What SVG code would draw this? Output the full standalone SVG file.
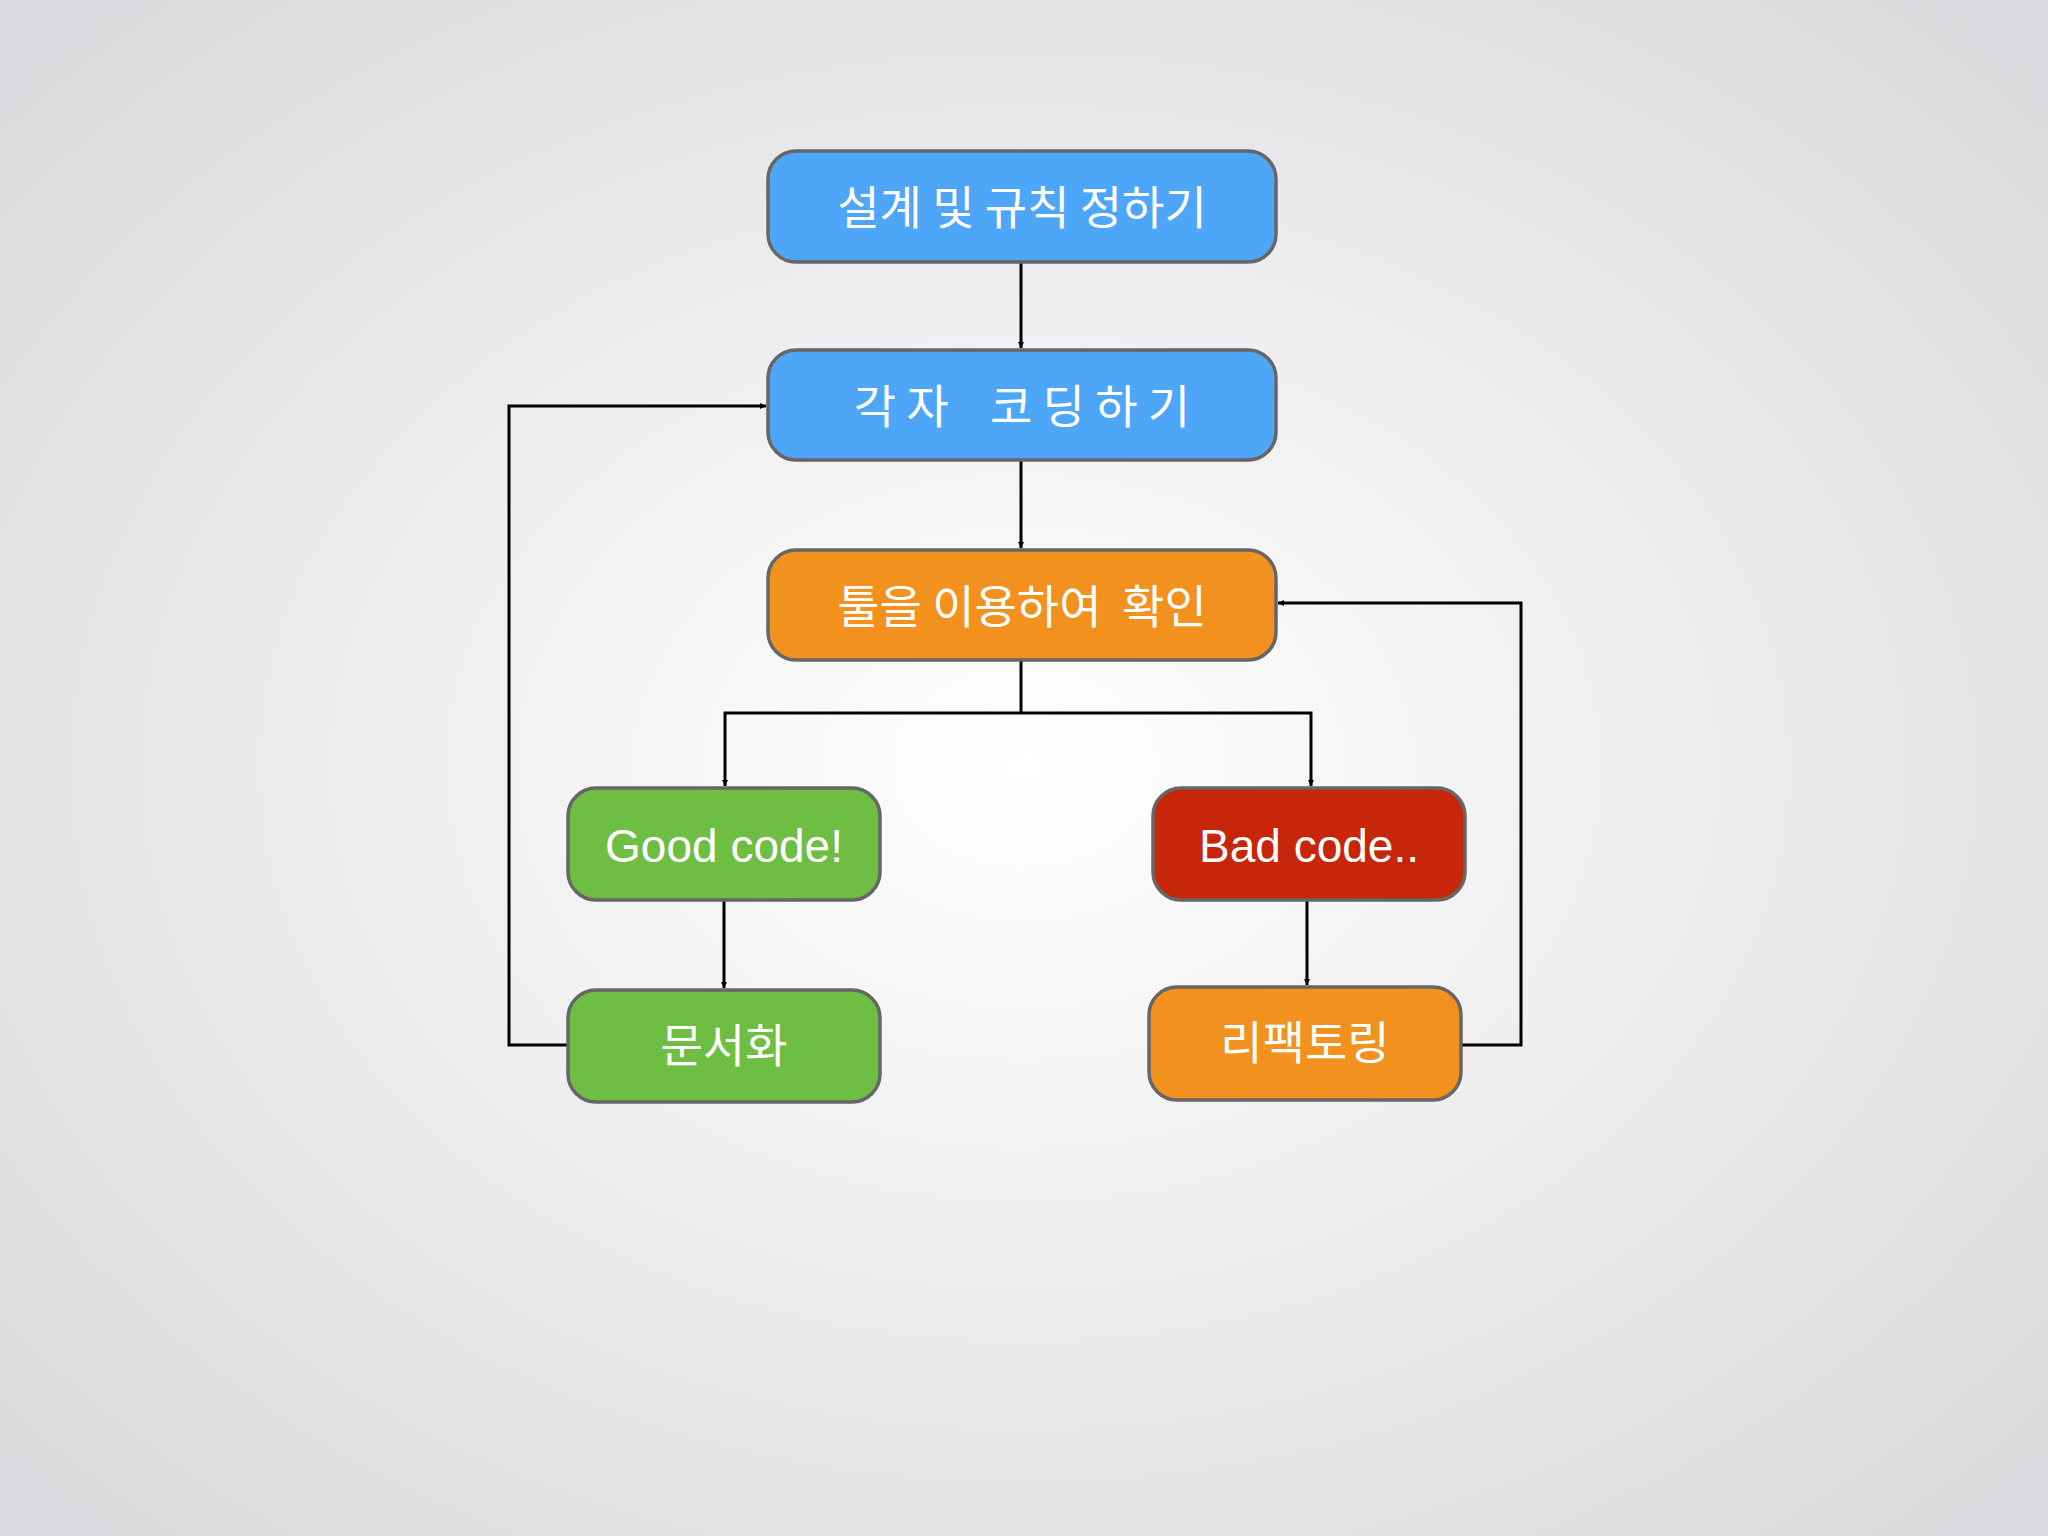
<svg xmlns="http://www.w3.org/2000/svg" width="2048" height="1536" viewBox="0 0 2048 1536">
<defs>
<radialGradient id="bg" cx="50%" cy="50%" r="75%">
<stop offset="0" stop-color="#ffffff"/><stop offset="1" stop-color="#d6d6da"/>
</radialGradient>
<marker id="ar" viewBox="0 0 10 10" refX="10" refY="5" markerWidth="6" markerHeight="6" orient="auto" markerUnits="userSpaceOnUse">
<path d="M0,0 L10,5 L0,10 z" fill="#000"/>
</marker>
<style>
.n{stroke:#666;stroke-width:3.5}
.b{fill:#4ea6f8}.o{fill:#f3911e}.g{fill:#6fbe44}.r{fill:#c8260a}
text{font-family:"Noto Sans CJK KR","Liberation Sans",sans-serif;font-size:46px;fill:#fff;text-anchor:middle;dominant-baseline:central}
.c path{fill:none;stroke:#000;stroke-width:3;marker-end:url(#ar)}
.c path.nm{marker-end:none}
</style>
</defs>
<rect width="2048" height="1536" fill="url(#bg)"/>
<g class="c" id="connectors">
<path d="M1021,262 V348"/>
<path d="M1021,460 V548"/>
<path class="nm" d="M1021,660 V713"/>
<path d="M1021,713 H725 V786"/>
<path d="M1021,713 H1311 V786"/>
<path d="M724,900 V988"/>
<path d="M1307,900 V985"/>
<path d="M568,1045 H509 V406 H766"/>
<path d="M1461,1045 H1521 V603 H1278"/>
</g>
<g id="n1"><rect class="n b" x="768" y="151" width="508" height="111" rx="28"/><text x="1022" y="204">설계 및 규칙 정하기</text></g>
<g id="n2"><rect class="n b" x="768" y="350" width="508" height="110" rx="28"/><text x="1022" y="403" xml:space="preserve">각 자    코 딩 하 기</text></g>
<g id="n3"><rect class="n o" x="768" y="550" width="508" height="110" rx="28"/><text x="1022" y="603" xml:space="preserve">툴을 이용하여  확인</text></g>
<g id="n4"><rect class="n g" x="568" y="788" width="312" height="112" rx="28"/><text x="724" y="846" style="font-family:'Liberation Sans',sans-serif">Good code!</text></g>
<g id="n5"><rect class="n r" x="1153" y="788" width="312" height="112" rx="28"/><text x="1309" y="846" style="font-family:'Liberation Sans',sans-serif">Bad code..</text></g>
<g id="n6"><rect class="n g" x="568" y="990" width="312" height="112" rx="28"/><text x="724" y="1042">문서화</text></g>
<g id="n7"><rect class="n o" x="1149" y="987" width="312" height="113" rx="28"/><text x="1305" y="1039">리팩토링</text></g>
</svg>
